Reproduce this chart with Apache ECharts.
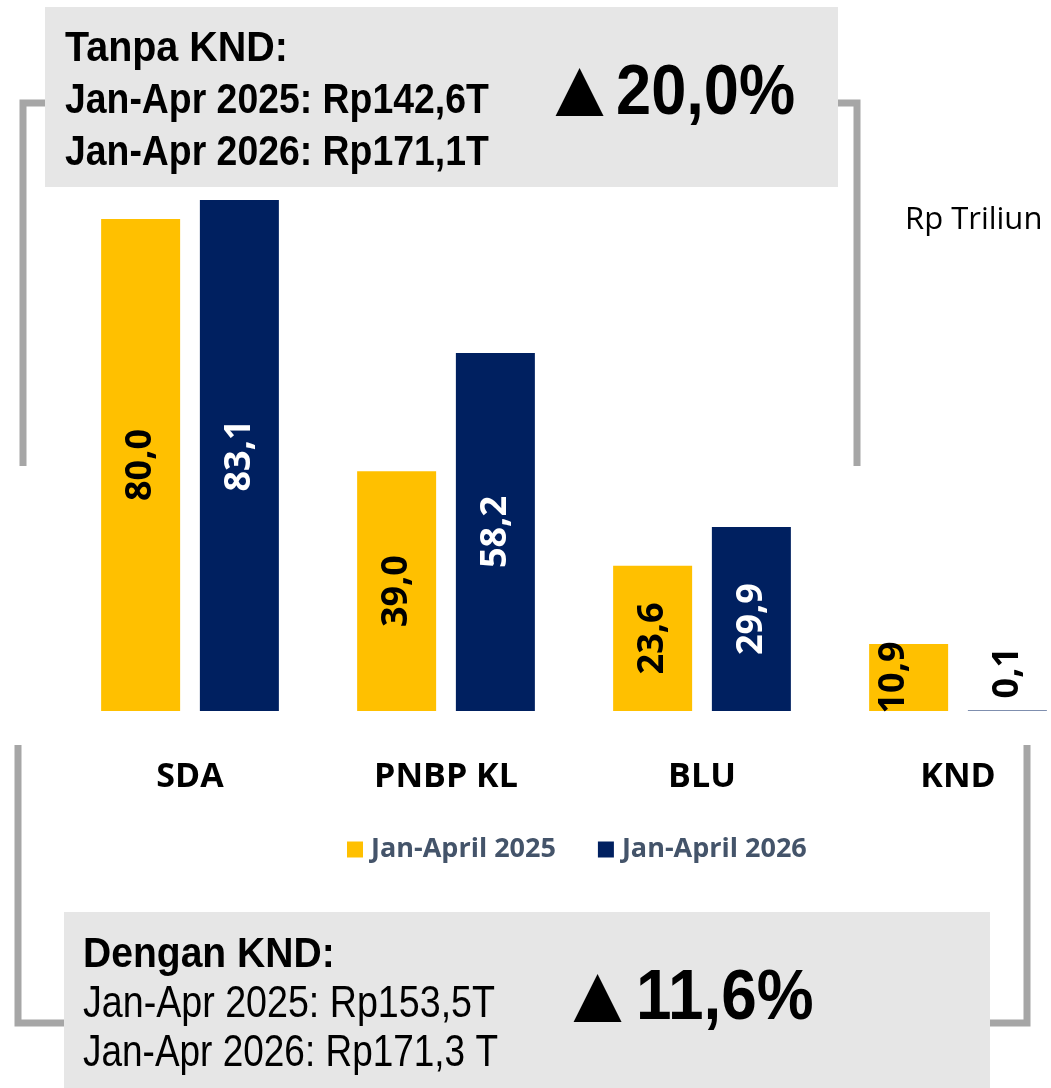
<!DOCTYPE html>
<html>
<head>
<meta charset="utf-8">
<script src="https://cdn.jsdelivr.net/npm/echarts@6/dist/echarts.min.js"></script>
<style>
  html, body { margin: 0; padding: 0; background: #fff; }
  #chart { width: 1051px; height: 1088px; }
</style>
</head>
<body>
<div id="chart"></div>
<script>
const categories = ['SDA', 'PNBP KL', 'BLU', 'KND'];
const series2025 = [80.0, 39.0, 23.6, 10.9];
const series2026 = [83.1, 58.2, 29.9, 0.1];
const seriesNames = ['Jan-April 2025', 'Jan-April 2026'];
const tanpaLines = ['Tanpa KND:', 'Jan-Apr 2025: Rp142,6T', 'Jan-Apr 2026: Rp171,1T'];
const tanpaGrowth = '20,0%';
const denganLines = ['Dengan KND:', 'Jan-Apr 2025: Rp153,5T', 'Jan-Apr 2026: Rp171,3 T'];
const denganGrowth = '11,6%';

const arial = "'Liberation Sans', Arial, sans-serif";
const bracketColor = '#a6a6a6';
const boxColor = '#e6e6e6';

const fmt = v => v.toFixed(1).replace('.', ',');

// narrow-looking text: squeeze horizontally
function txt(str, x, y, font, sx) {
    return {
        type: 'text', x: x, y: y, z: 11, scaleX: sx || 1,
        style: { text: str, font: font, fill: '#000', verticalAlign: 'middle' }
    };
}

let myChart = echarts.init(document.getElementById('chart'));

let option = {
    animation: false,
    legend: {
        data: seriesNames,
        left: 342,
        top: 831,
        itemWidth: 16,
        itemHeight: 16,
        itemGap: 42,
        icon: 'rect',
        textStyle: {
            color: '#44546a',
            fontWeight: 'bold',
            fontSize: 27,
            fontFamily: 'Open Sans',
            padding: [0, 0, 0, 3]
        }
    },
    grid: {
        left: 190,
        top: 96,
        width: 768,
        height: 615
    },
    xAxis: {
        type: 'category',
        data: categories,
        boundaryGap: false,
        axisLine: { show: false },
        axisTick: { show: false },
        axisLabel: {
            margin: 49,
            color: '#000',
            fontWeight: 'bold',
            fontSize: 34,
            fontFamily: 'Open Sans'
        }
    },
    yAxis: {
        type: 'value',
        min: 0,
        max: 100,
        show: false,
        splitLine: { show: false }
    },
    series: [
        {
            name: seriesNames[0],
            type: 'bar',
            clip: false,
            barWidth: 79,
            barGap: '25%',
            itemStyle: { color: '#ffc000' },
            label: {
                show: true,
                position: 'inside',
                rotate: 90,
                color: '#000',
                fontWeight: 'bold',
                fontSize: 36,
                fontFamily: 'Open Sans',
                formatter: p => fmt(p.value)
            },
            data: series2025.map((v, i) => i === 3
                ? { value: v, label: { offset: [0, -15] } }
                : v)
        },
        {
            name: seriesNames[1],
            type: 'bar',
            clip: false,
            barWidth: 79,
            itemStyle: { color: '#002060' },
            label: {
                show: true,
                position: 'inside',
                rotate: 90,
                color: '#fff',
                fontWeight: 'bold',
                fontSize: 36,
                fontFamily: 'Open Sans',
                formatter: p => fmt(p.value)
            },
            data: series2026.map((v, i) => i === 3
                ? { value: v, label: { position: 'top', align: 'left', verticalAlign: 'middle', color: '#000', distance: 8, offset: [4, 0] } }
                : v)
        }
    ],
    graphic: [
        // top bracket
        { type: 'polyline', shape: { points: [[45, 103], [23, 103], [23, 466]] },
          style: { stroke: bracketColor, lineWidth: 7, fill: null } },
        { type: 'polyline', shape: { points: [[838, 103], [857, 103], [857, 466]] },
          style: { stroke: bracketColor, lineWidth: 7, fill: null } },
        // bottom bracket
        { type: 'polyline', shape: { points: [[18, 745], [18, 1023], [64, 1023]] },
          style: { stroke: bracketColor, lineWidth: 7, fill: null } },
        { type: 'polyline', shape: { points: [[1027, 745], [1027, 1023], [990, 1023]] },
          style: { stroke: bracketColor, lineWidth: 7, fill: null } },
        // top box
        { type: 'rect', shape: { x: 45, y: 7, width: 793, height: 180 }, style: { fill: boxColor }, z: 10 },
        txt(tanpaLines[0], 65, 49, 'bold 42px ' + arial, 0.94),
        txt(tanpaLines[1], 65, 101, 'bold 42px ' + arial, 0.89),
        txt(tanpaLines[2], 65, 153, 'bold 42px ' + arial, 0.89),
        txt('▲', 539, 93, '82px ' + arial, 1),
        txt(tanpaGrowth, 616, 94, 'bold 71px ' + arial, 0.89),
        // bottom box
        { type: 'rect', shape: { x: 64, y: 912, width: 926, height: 180 }, style: { fill: boxColor }, z: 10 },
        txt(denganLines[0], 83, 955, 'bold 42px ' + arial, 0.93),
        txt(denganLines[1], 83, 1005, '44px ' + arial, 0.855),
        txt(denganLines[2], 83, 1054, '44px ' + arial, 0.84),
        txt('▲', 557, 999, '82px ' + arial, 1),
        txt(denganGrowth, 636, 999, 'bold 71px ' + arial, 0.9),
        // unit
        { type: 'text', x: 905, y: 220,
          style: { text: 'Rp Triliun', font: '31px Open Sans', fill: '#000', verticalAlign: 'middle' } }
    ]
};

myChart.setOption(option);
</script>
</body>
</html>
